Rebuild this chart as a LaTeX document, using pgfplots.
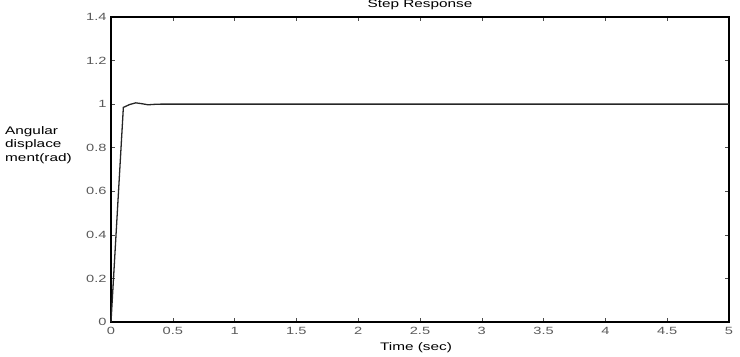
\documentclass[border=0pt]{standalone}
\usepackage{pgfplots}
\pgfplotsset{compat=1.18}
\usepackage{fontspec}
\setmainfont{Liberation Sans}
\newfontfamily\wf{Liberation Sans}[FakeStretch=1.4]
\begin{document}
\begin{tikzpicture}[x=1bp,y=1bp]
\useasboundingbox (-111,-34) rectangle (629,322);
\begin{axis}[
  at={(0,0)}, anchor=south west,
  scale only axis, width=618bp, height=305bp,
  xmin=0, xmax=5, ymin=0, ymax=1.4,
  xtick={0,0.5,...,5}, ytick={0,0.2,...,1.4},
  xticklabels={0,0.5,1,1.5,2,2.5,3,3.5,4,4.5,5},
  yticklabels={0,0.2,0.4,0.6,0.8,1,1.2,1.4},
  tick align=inside, tick pos=both,
  major tick length=4bp,
  axis line style={black, line width=1.2pt},
  tick style={black!70, line width=0.6pt},
  ticklabel style={font=\wf\fontsize{10.5}{12}\selectfont, text=black!65},
  /pgf/number format/assume math mode=true,
  xticklabel style={yshift=-2bp},
  yticklabel style={xshift=-1bp},
  clip=false,
]
\addplot[black!85, line width=1.3pt] coordinates {
 (0,0) (0.1,0.985) (0.15,0.998) (0.2,1.006) (0.25,1.002) (0.3,0.997) (0.35,0.999) (0.4,1.0) (0.5,1.0) (1,1) (2,1) (3,1) (4,1) (5,1)
};
\end{axis}
\node[font=\wf\fontsize{11}{12}\selectfont] at (309,317) {Step Response};
\node[font=\wf\fontsize{11}{12}\selectfont] at (305,-26) {Time (sec)};
\node[font=\wf\fontsize{11}{13.5}\selectfont, align=left, anchor=west, inner sep=0pt] at (-106,177) {Angular\\displace\\ment(rad)};
\end{tikzpicture}
\end{document}
